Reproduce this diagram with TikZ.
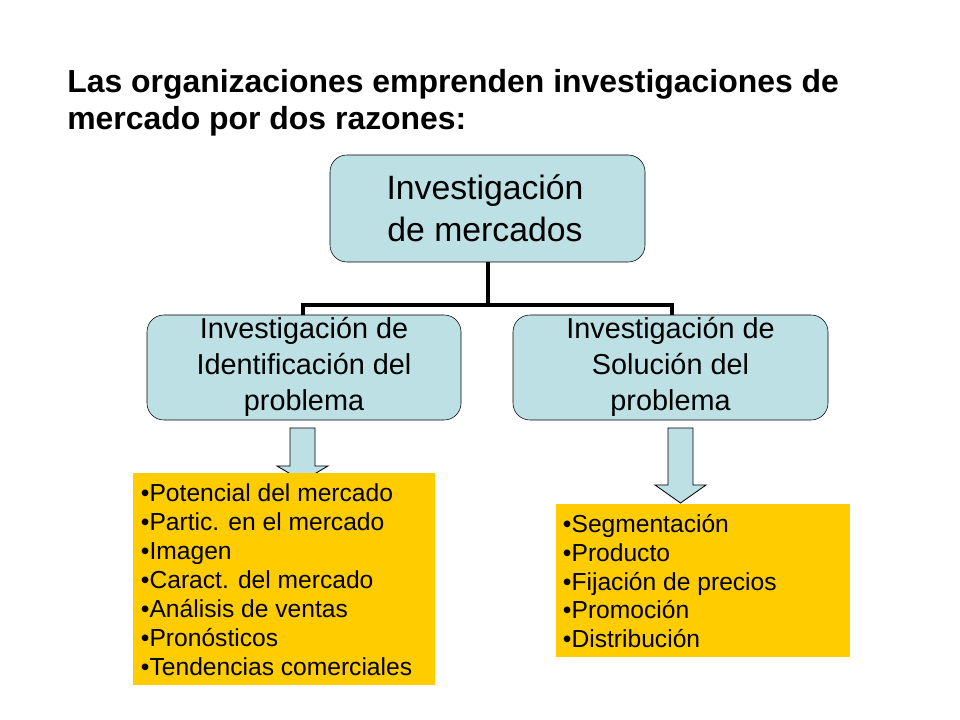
\documentclass[tikz,border=0pt]{standalone}
\usepackage{fontspec}
\setmainfont{Liberation Sans}
\usetikzlibrary{positioning}
\definecolor{boxblue}{HTML}{BDE0E4}
\definecolor{listyellow}{HTML}{FFCC00}
\tikzset{
  topbox/.style={draw, rounded corners=12pt, fill=boxblue, align=center},
  listbox/.style={fill=listyellow, align=left, anchor=north west, inner sep=0pt},
  downarrow/.style={draw, fill=boxblue, line width=0.6pt},
  tree/.style={line width=3.5pt}
}
\begin{document}
\begin{tikzpicture}[x=0.025cm, y=-0.025cm]
  \useasboundingbox (0,0) rectangle (960,720);
  % title
  \node[anchor=west, align=left, inner sep=0pt, font=\bfseries\fontsize{22.7}{26.3}\selectfont] (title) at (67,103)
    {Las organizaciones emprenden investigaciones de\\mercado por dos razones:};
  % boxes
  \draw[topbox] (330,155) rectangle (645,262);
  \node[font=\fontsize{24}{30}\selectfont, align=center] (main) at (485,208) {Investigación\\ de mercados};
  \draw[topbox] (147,315) rectangle (461,420);
  \node[font=\fontsize{20.5}{25.6}\selectfont, align=center] (ident) at (304,367) {Investigación de\\Identificación del\\problema};
  \draw[topbox] (513,315) rectangle (828,420);
  \node[font=\fontsize{20.5}{25.6}\selectfont, align=center] (sol) at (670.5,367) {Investigación de\\ Solución del\\problema};
  % connector
  \coordinate (top) at (488,262);
  \coordinate (split) at (488,305);
  \coordinate (lft) at (303,305);
  \coordinate (rgt) at (672,305);
  \draw[tree] (top) -- (split);
  \draw[tree, line cap=rect] (lft) -- (rgt);
  \draw[tree] (lft) -- (303,315);
  \draw[tree] (rgt) -- (672,315);
  % block arrows
  \draw[downarrow] (290,428) -- (315,428) -- (315,466) -- (328,466) -- (302.5,481) -- (277,466) -- (290,466) -- cycle;
  \draw[downarrow] (668,428) -- (693,428) -- (693,485) -- (706,485) -- (680.5,503) -- (655,485) -- (668,485) -- cycle;
  % lists
  \fill[listyellow] (133,473) rectangle (435,685);
  \node[anchor=north west, align=left, font=\fontsize{17.5}{20.6}\selectfont] (listl) at (136,479)
    {•Potencial del mercado\\•Partic. en el mercado\\•Imagen\\•Caract. del mercado\\•Análisis de ventas\\•Pronósticos\\•Tendencias comerciales};
  \fill[listyellow] (556,504) rectangle (850,657);
  \node[anchor=north west, align=left, font=\fontsize{17.5}{20.6}\selectfont] (listr) at (558,509)
    {•Segmentación\\•Producto\\•Fijación de precios\\•Promoción\\•Distribución};
\end{tikzpicture}
\end{document}
